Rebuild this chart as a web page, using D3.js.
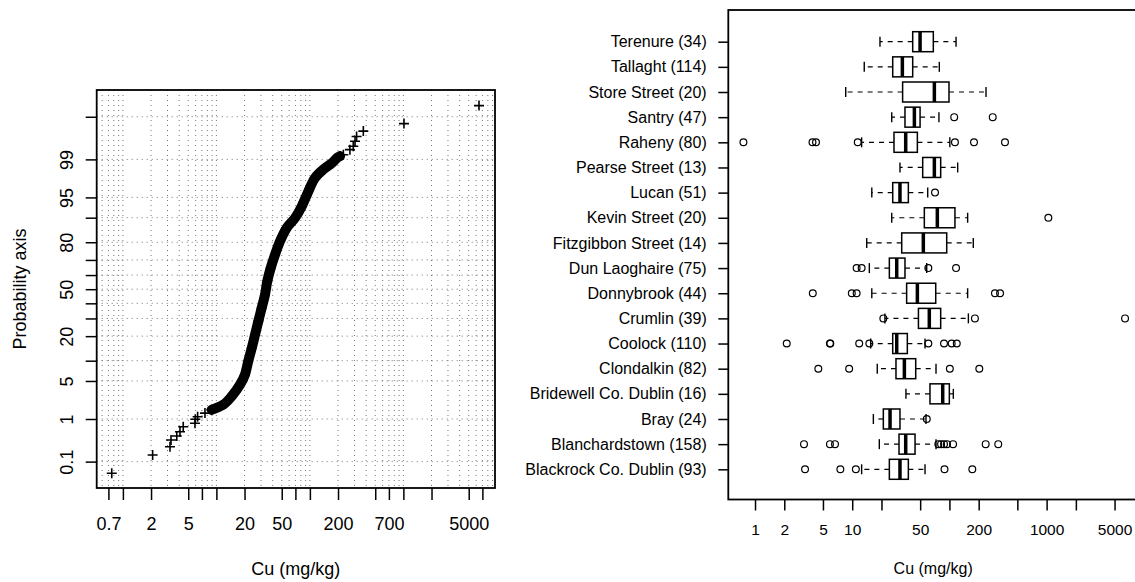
<!DOCTYPE html>
<html><head><meta charset="utf-8">
<script src="https://cdn.jsdelivr.net/npm/d3@7"></script>
<style>
body{margin:0;background:#fff}
svg{display:block}
text{font-family:"Liberation Sans",Arial,Helvetica,sans-serif;fill:#000}
</style></head>
<body><svg id="chart" width="1135" height="582"></svg>
<script>
// ---------------- DATA ----------------
// Left: probability plot (Cu mg/kg vs cumulative probability %)
const lowTailCu  = [0.76, 2.08, 3.19, 3.27, 3.77, 4.08, 4.42, 5.9, 5.95, 6.3, 7.55, 8.9];
const lowTailPct = [0.0485, 0.148, 0.238, 0.344, 0.426, 0.532, 0.687, 0.813, 0.985, 1.116, 1.32, 1.54];
const bandCu  = [8.9, 11.85, 14.58, 17.9, 20.2, 21.9, 23.9, 25.9, 28.1, 30.5, 33.1, 35.0, 38.1, 42.4, 47.9, 56.5, 69.3, 81.7, 96.1, 113.5, 139, 171, 194, 210];
const bandPct = [1.54, 1.92, 2.75, 4.35, 6.27, 9.82, 14.6, 20.7, 28.3, 36.8, 46.1, 55.6, 64.8, 73.2, 80.5, 86.4, 89.9, 93.1, 96.0, 97.7, 98.4, 98.8, 99.06, 99.15];
const highTailCu  = [228, 268, 291, 304, 316, 373, 1015, 6440];
const highTailPct = [99.20, 99.38, 99.48, 99.60, 99.69, 99.77, 99.85, 99.95];

const leftXTicks  = [0.7, 1, 2, 5, 7, 10, 20, 50, 70, 100, 200, 500, 700, 1000, 2000, 5000, 7000];
const leftXLabels = [0.7, 2, 5, 20, 50, 200, 700, 5000];
const probTicks   = [0.1, 1, 5, 10, 20, 30, 40, 50, 60, 70, 80, 90, 95, 99, 99.9];
const probLabels  = [0.1, 1, 5, 20, 50, 80, 95, 99];
const gridMantissas = [1, 2, 3, 4, 5, 6, 7, 8, 9];
const gridDecades   = [0.1, 1, 10, 100, 1000];

// Right: boxplots by district (top to bottom)
const districts = ["Terenure (34)", "Tallaght (114)", "Store Street (20)", "Santry (47)", "Raheny (80)",
  "Pearse Street (13)", "Lucan (51)", "Kevin Street (20)", "Fitzgibbon Street (14)", "Dun Laoghaire (75)",
  "Donnybrook (44)", "Crumlin (39)", "Coolock (110)", "Clondalkin (82)", "Bridewell Co. Dublin (16)",
  "Bray (24)", "Blanchardstown (158)", "Blackrock Co. Dublin (93)"];
const whiskerLow  = [19.3, 13.3, 8.57, 25.5, 12.5, 31, 15.9, 25.5, 14.1, 15, 15.9, 21.7, 15.5, 18.1, 35.7, 16.5, 19, 12.5];
const quart1      = [41.9, 26.1, 33, 34.9, 26.9, 53.1, 26.1, 55.2, 32.3, 24.1, 36.3, 48, 26.1, 28.2, 63.1, 20.9, 30.3, 24.1];
const medians     = [49.9, 32.8, 70, 43.6, 35.5, 70, 31, 75.1, 53.9, 28.7, 46.8, 62.1, 28.7, 34.4, 85.3, 24.5, 35.5, 31];
const quart3      = [68.3, 41.9, 99, 49.9, 46.8, 81.3, 37.8, 114, 93.8, 34.9, 72.3, 81.3, 36.9, 45, 99.8, 31, 44.3, 37.8];
const whiskerHigh = [117, 78.7, 238, 78, 101, 121.6, 59.8, 154, 176, 58.4, 154, 156.7, 56.1, 72.8, 109.7, 57.4, 72.8, 56.1];
const outliers = [
  [], [], [], [112, 279],
  [0.76, 3.9, 4.24, 11.4, 114, 179, 373],
  [], [71.1], [1042], [],
  [11.1, 12.5, 60.7, 117],
  [3.93, 9.9, 11.1, 294, 332],
  [20.9, 183, 6410],
  [2.12, 5.9, 5.95, 11.8, 15.0, 60.7, 88, 105.5, 119],
  [4.48, 9.3, 101, 203],
  [], [58.5],
  [3.19, 5.9, 6.65, 76.9, 82, 88, 94.4, 109, 236, 318],
  [3.27, 7.55, 10.9, 89, 172]
];
const rightXTicks  = [1, 2, 5, 10, 20, 50, 100, 200, 500, 1000, 2000, 5000];
const rightXLabels = [1, 2, 5, 10, 50, 200, 1000, 5000];

// ---------------- HELPERS ----------------
function qnorm(p){
  const a=[-3.969683028665376e+01,2.209460984245205e+02,-2.759285104469687e+02,1.383577518672690e+02,-3.066479806614716e+01,2.506628277459239e+00];
  const b=[-5.447609879822406e+01,1.615858368580409e+02,-1.556989798598866e+02,6.680131188771972e+01,-1.328068155288572e+01];
  const c=[-7.784894002430293e-03,-3.223964580411365e-01,-2.400758277161838e+00,-2.549732539343734e+00,4.374664141464968e+00,2.938163982698783e+00];
  const d=[7.784695709041462e-03,3.224671290700398e-01,2.445134137142996e+00,3.754408661907416e+00];
  const pl=0.02425, ph=1-pl;
  if(p<pl){const q=Math.sqrt(-2*Math.log(p));return (((((c[0]*q+c[1])*q+c[2])*q+c[3])*q+c[4])*q+c[5])/((((d[0]*q+d[1])*q+d[2])*q+d[3])*q+1);}
  if(p<=ph){const q=p-0.5,r=q*q;return (((((a[0]*r+a[1])*r+a[2])*r+a[3])*r+a[4])*r+a[5])*q/(((((b[0]*r+b[1])*r+b[2])*r+b[3])*r+b[4])*r+1);}
  const q=Math.sqrt(-2*Math.log(1-p));return -(((((c[0]*q+c[1])*q+c[2])*q+c[3])*q+c[4])*q+c[5])/((((d[0]*q+d[1])*q+d[2])*q+d[3])*q+1);
}

const svg = d3.select("#chart");
const FONT = '"Liberation Sans",Arial,Helvetica,sans-serif';

// ---------------- LEFT PANEL ----------------
const L = {x0:96.7, x1:495, y0:90, y1:488};
const xL = d3.scaleLog().domain([0.5246, 9550]).range([L.x0, L.x1]);
const zL = d3.scaleLinear().domain([-3.563, 3.57]).range([L.y1, L.y0]);
const yL = pct => zL(qnorm(pct/100));

const gridG = svg.append("g");
const gridVals = [];
gridDecades.forEach(dd => gridMantissas.forEach(m => {
  const v = +(m*dd).toPrecision(3);
  const [lo, hi] = xL.domain();
  if (v > lo && v < hi) gridVals.push(v);
}));
gridG.selectAll("line.v").data(gridVals).join("line")
  .attr("x1", d => xL(d)).attr("x2", d => xL(d))
  .attr("y1", L.y0).attr("y2", L.y1)
  .attr("stroke", "#666").attr("stroke-width", 0.9).attr("stroke-dasharray", "1,4");
gridG.selectAll("line.h").data(probTicks).join("line")
  .attr("x1", L.x0).attr("x2", L.x1)
  .attr("y1", d => yL(d)).attr("y2", d => yL(d))
  .attr("stroke", "#666").attr("stroke-width", 0.9).attr("stroke-dasharray", "1,4");

// dense band of overlapping markers
const bandPts = bandCu.map((v,i)=>[v, bandPct[i]]);
const bandLine = d3.line().x(d=>xL(d[0])).y(d=>yL(d[1])).curve(d3.curveCatmullRom);
svg.append("path")
  .attr("d", bandLine(bandPts))
  .attr("fill","none").attr("stroke","#000").attr("stroke-width",10)
  .attr("stroke-linecap","round").attr("stroke-linejoin","round");

// plus markers
const plusPts = lowTailCu.map((v,i)=>[v, lowTailPct[i]])
  .concat(bandPts)
  .concat(highTailCu.map((v,i)=>[v, highTailPct[i]]));
svg.append("g").selectAll("path").data(plusPts).join("path")
  .attr("transform", d => `translate(${xL(d[0])},${yL(d[1])})`)
  .attr("d", "M-5,0H5M0,-5V5")
  .attr("stroke", "#000").attr("stroke-width", 1.6).attr("fill","none");

// axes
svg.append("g").attr("transform", `translate(0,${L.y1})`)
  .call(d3.axisBottom(xL).tickValues(leftXTicks)
    .tickFormat(d => leftXLabels.includes(d) ? String(d) : "")
    .tickSize(12).tickPadding(17).tickSizeOuter(0))
  .call(g => g.select(".domain").remove())
  .call(g => g.selectAll("line").attr("stroke-width", 1.5))
  .call(g => g.selectAll("text").attr("font-size", 18).attr("font-family", FONT));

svg.append("g").attr("transform", `translate(${L.x0},0)`)
  .call(d3.axisLeft(zL).tickValues(probTicks.map(p => qnorm(p/100)))
    .tickFormat((d,i) => probLabels.includes(probTicks[i]) ? String(probTicks[i]) : "")
    .tickSize(11).tickSizeOuter(0))
  .call(g => g.select(".domain").remove())
  .call(g => g.selectAll("line").attr("stroke-width", 1.5))
  .call(g => g.selectAll("text")
    .attr("font-size", 18).attr("font-family", FONT)
    .attr("x", 0).attr("dy", 0).attr("text-anchor","middle")
    .attr("transform", "translate(-23.5,0) rotate(-90)"));

svg.append("rect").attr("x", L.x0).attr("y", L.y0)
  .attr("width", L.x1-L.x0).attr("height", L.y1-L.y0)
  .attr("fill","none").attr("stroke","#000").attr("stroke-width",1.8);

svg.append("text").attr("x", (L.x0+L.x1)/2).attr("y", 574.5)
  .attr("text-anchor","middle").attr("font-size",18).text("Cu (mg/kg)");
svg.append("text").attr("transform", `translate(25.5,${(L.y0+L.y1)/2}) rotate(-90)`)
  .attr("text-anchor","middle").attr("font-size",18).text("Probability axis");

// ---------------- RIGHT PANEL ----------------
const R = {x0:728.3, x1:1138, y0:10, y1:499.5};
const xR = d3.scaleLog().domain([0.531, 8714]).range([R.x0, R.x1]);
const yR = d3.scalePoint().domain(districts).range([41.7, 469.3]);
const halfBox = 10, halfStaple = 5;

const boxG = svg.append("g").selectAll("g").data(districts).join("g")
  .attr("transform", d => `translate(0,${yR(d)})`);
boxG.each(function(d, i){
  const g = d3.select(this);
  g.append("line").attr("x1", xR(quart1[i])).attr("x2", xR(whiskerLow[i]))
    .attr("stroke","#000").attr("stroke-width",1.2).attr("stroke-dasharray","5,5");
  g.append("line").attr("x1", xR(quart3[i])).attr("x2", xR(whiskerHigh[i]))
    .attr("stroke","#000").attr("stroke-width",1.2).attr("stroke-dasharray","5,5");
  [whiskerLow[i], whiskerHigh[i]].forEach(v => {
    g.append("line").attr("x1", xR(v)).attr("x2", xR(v))
      .attr("y1", -halfStaple).attr("y2", halfStaple)
      .attr("stroke","#000").attr("stroke-width",1.4);
  });
  g.append("rect").attr("x", xR(quart1[i])).attr("y", -halfBox)
    .attr("width", xR(quart3[i]) - xR(quart1[i])).attr("height", 2*halfBox)
    .attr("fill","#fff").attr("stroke","#000").attr("stroke-width",1.5);
  g.append("line").attr("x1", xR(medians[i])).attr("x2", xR(medians[i]))
    .attr("y1", -halfBox).attr("y2", halfBox)
    .attr("stroke","#000").attr("stroke-width",3.5);
  g.selectAll("circle").data(outliers[i]).join("circle")
    .attr("cx", v => xR(v)).attr("cy", 0).attr("r", 3.4)
    .attr("fill","none").attr("stroke","#000").attr("stroke-width",1.2);
});

svg.append("g").attr("transform", `translate(0,${R.y1})`)
  .call(d3.axisBottom(xR).tickValues(rightXTicks)
    .tickFormat(d => rightXLabels.includes(d) ? String(d) : "")
    .tickSize(11).tickPadding(13).tickSizeOuter(0))
  .call(g => g.select(".domain").remove())
  .call(g => g.selectAll("line").attr("stroke-width", 1.5))
  .call(g => g.selectAll("text").attr("font-size", 15.5).attr("font-family", FONT));

svg.append("g").attr("transform", `translate(${R.x0},0)`)
  .call(d3.axisLeft(yR).tickSize(10).tickPadding(11.6).tickSizeOuter(0))
  .call(g => g.select(".domain").remove())
  .call(g => g.selectAll("line").attr("stroke-width", 1.5))
  .call(g => g.selectAll("text").attr("font-size", 16).attr("font-family", FONT));

svg.append("rect").attr("x", R.x0).attr("y", R.y0)
  .attr("width", R.x1-R.x0).attr("height", R.y1-R.y0)
  .attr("fill","none").attr("stroke","#000").attr("stroke-width",1.8);

svg.append("text").attr("x", (R.x0+R.x1)/2).attr("y", 574)
  .attr("text-anchor","middle").attr("font-size",16).text("Cu (mg/kg)");
</script></body></html>
